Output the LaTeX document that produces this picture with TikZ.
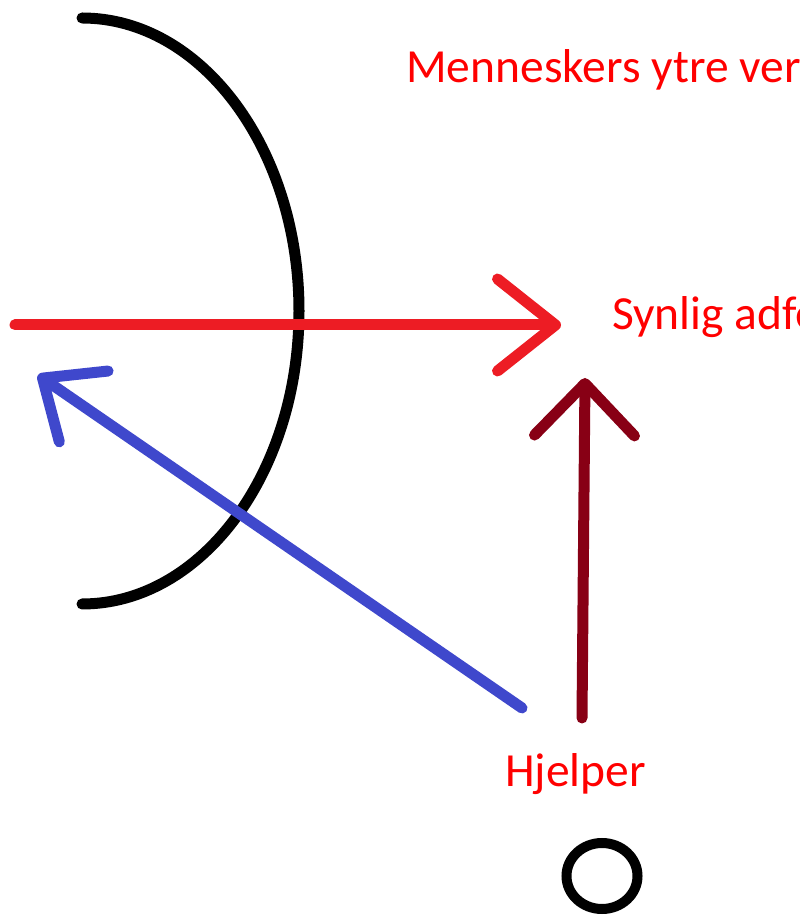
\documentclass[tikz,border=0pt]{standalone}
\usepackage{fontspec}
\setmainfont{Carlito}
\usetikzlibrary{arrows.meta}
\definecolor{paintred}{HTML}{ED1C24}
\definecolor{paintblue}{HTML}{3F48CC}
\definecolor{darkred}{HTML}{880015}

\begin{document}
\begin{tikzpicture}[
  x=1pt,y=1pt,
  lbl/.style={text=red,font=\fontsize{47.5}{57}\selectfont,
              inner sep=0pt,anchor=base west},
  pen/.style={line width=11pt,line cap=round},
  ar/.style n args={2}{pen,-{Straight Barb[round,length=#1,width=#2]}}
]
\useasboundingbox (0,0) rectangle (800,921);
\clip (0,0) rectangle (800,921);

\node[lbl] (verden)  at (406,838) {Menneskers ytre ver};
\node[lbl] (adferd)  at (612,591) {Synlig adfe};
\node[lbl] (hjelper) at (505,134) {Hjelper};

\coordinate (grense)   at (82,903);
\coordinate (inn)      at (15,596);
\coordinate (inntip)   at (561,596);
\coordinate (opp)      at (582,203);
\coordinate (opptip)   at (585,543);
\coordinate (skraa)    at (522,213);
\coordinate (skraatip) at (38,546);
\coordinate (hode)     at (602,45);

\draw[pen] (grense) arc[start angle=90,end angle=-90,x radius=217,y radius=293];
\draw[ar={58pt}{92pt},paintred] (inn) -- (inntip);
\draw[ar={52pt}{100pt},darkred] (opp) -- (opptip);
\draw[ar={50pt}{86pt},paintblue] (skraa) -- (skraatip);
\draw[line width=10pt] (hode) ellipse[x radius=35.5,y radius=33];
\end{tikzpicture}
\end{document}
